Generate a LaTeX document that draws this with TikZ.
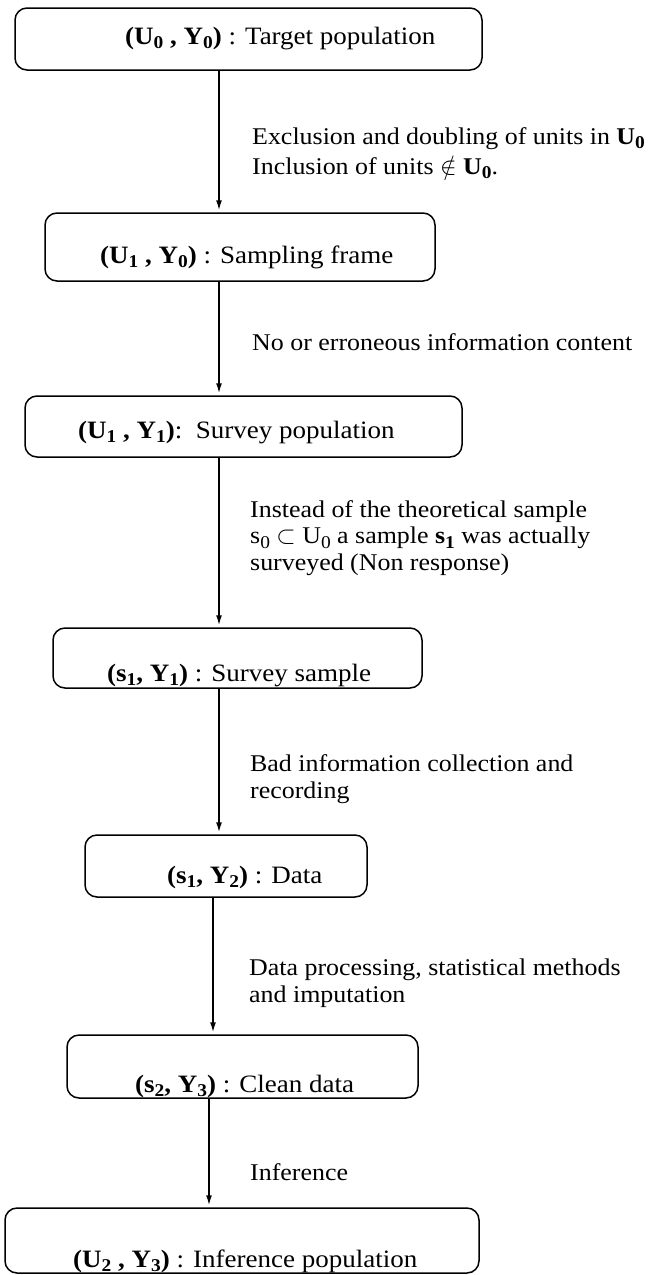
\documentclass[tikz,border=0pt]{standalone}
\usepackage{fontspec}
\setmainfont{Liberation Serif}[FakeStretch=1.08]
\usetikzlibrary{arrows.meta}

% bold lowered subscript and regular lowered subscript
\newcommand\bsub[1]{\raisebox{-0.42ex}{\fontsize{18}{18}\selectfont\bfseries #1}}
\newcommand\rsub[1]{\raisebox{-0.42ex}{\fontsize{18}{18}\selectfont #1}}

\tikzset{
  stagebox/.style={draw, line width=1.5pt, rounded corners=12pt, inner sep=0pt},
  stagetext/.style={anchor=base west, inner sep=0pt, font=\fontsize{25}{30}\selectfont},
  note/.style={anchor=base west, align=left, inner sep=0pt, font=\fontsize{24}{26.5}\selectfont},
  flow/.style={line width=1.5pt, -{Latex[length=10pt,width=6pt]}, shorten >=2pt}
}

\begin{document}
\begin{tikzpicture}[x=1pt, y=-1pt]
\useasboundingbox (0,0) rectangle (660,1275);

% stage boxes
\node[stagebox, minimum width=467pt, minimum height=62pt] (b1) at (248.5,39)    {};
\node[stagebox, minimum width=390pt, minimum height=68pt] (b2) at (240,247)     {};
\node[stagebox, minimum width=437pt, minimum height=61pt] (b3) at (243.5,426.5) {};
\node[stagebox, minimum width=369pt, minimum height=60pt] (b4) at (237.5,658)   {};
\node[stagebox, minimum width=282pt, minimum height=62pt] (b5) at (226,866)     {};
\node[stagebox, minimum width=351pt, minimum height=63pt] (b6) at (242.5,1066.5){};
\node[stagebox, minimum width=474pt, minimum height=65pt] (b7) at (242,1240.5)  {};

% stage texts (placed by baseline)
\node[stagetext] (t1) at (125,44)   {\textbf{(U\bsub{0} , Y\bsub{0})} : Target population};
\node[stagetext] (t2) at (100,263)  {\textbf{(U\bsub{1} , Y\bsub{0})} : Sampling frame};
\node[stagetext] (t3) at (78,438)   {\textbf{(U\bsub{1} , Y\bsub{1})}:\ \ Survey population};
\node[stagetext] (t4) at (107,681)  {\textbf{(s\bsub{1}, Y\bsub{1})} : Survey sample};
\node[stagetext] (t5) at (167,883)  {\textbf{(s\bsub{1}, Y\bsub{2})} : Data};
\node[stagetext] (t6) at (135,1092) {\textbf{(s\bsub{2}, Y\bsub{3})} : Clean data};
\node[stagetext] (t7) at (73,1267)  {\textbf{(U\bsub{2} , Y\bsub{3})} : Inference population};

% arrow positions
\coordinate (a1) at (219,0);
\coordinate (a2) at (219,0);
\coordinate (a3) at (219,0);
\coordinate (a4) at (219,0);
\coordinate (a5) at (213,0);
\coordinate (a6) at (209,0);

\draw[flow] (b1.south -| a1) -- (b2.north -| a1);
\draw[flow] (b2.south -| a2) -- (b3.north -| a2);
\draw[flow] (b3.south -| a3) -- (b4.north -| a3);
\draw[flow] (b4.south -| a4) -- (b5.north -| a4);
\draw[flow] (b5.south -| a5) -- (b6.north -| a5);
\draw[flow] (b6.south -| a6) -- (b7.north -| a6);

% transition notes (placed by the baseline of their last line)
\node[note, font=\fontsize{24}{30}\selectfont] (n1) at (252,174)
  {Exclusion and doubling of units in \textbf{U}\bsub{0}\\
   Inclusion of units $\notin$ \textbf{U}\bsub{0}.};
\node[note] (n2) at (252,350) {No or erroneous information content};
\node[note] (n3) at (250,570) {Instead of the theoretical sample\\
  s\rsub{0} $\subset$ U\rsub{0} a sample \textbf{s}\bsub{1} was actually\\
  surveyed (Non response)};
\node[note] (n4) at (250,798) {Bad information collection and\\ recording};
\node[note] (n5) at (249,1002) {Data processing, statistical methods\\ and imputation};
\node[note] (n6) at (250,1180) {Inference};
\end{tikzpicture}
\end{document}
